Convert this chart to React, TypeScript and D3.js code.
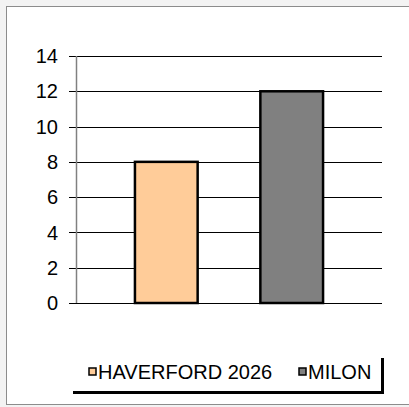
import React, { useEffect, useRef } from "react";
import * as d3 from "d3";

const categories = [""];
const seriesNames = ["HAVERFORD 2026", "MILON"];
const seriesValues = [8, 12];
const seriesColors = ["#FFCC99", "#808080"];
const yTicks = [0, 2, 4, 6, 8, 10, 12, 14];

const App: React.FC = () => {
  const svgRef = useRef<SVGSVGElement | null>(null);

  useEffect(() => {
    if (!svgRef.current) return;
    const svg = d3.select(svgRef.current);
    svg.selectAll("*").remove();

    const width = 409;
    const height = 407;
    const font = "Arial, 'Liberation Sans', sans-serif";

    svg.attr("width", width).attr("height", height);

    // page / chart background
    svg.append("rect").attr("width", width).attr("height", height).attr("fill", "#f3f3f3");
    svg
      .append("rect")
      .attr("x", 6.5)
      .attr("y", 6.5)
      .attr("width", width)
      .attr("height", 398)
      .attr("fill", "#fff")
      .attr("stroke", "#8c8c8c")
      .attr("stroke-width", 1);

    const left = 76;
    const right = 382;
    const top = 56;
    const bottom = 303;

    const y = d3.scaleLinear().domain([0, 14]).range([bottom, top]);
    const x0 = d3.scaleBand<string>().domain(categories).range([left, right]).padding(0);
    const x1 = d3
      .scaleBand<string>()
      .domain(seriesNames)
      .range([0, x0.bandwidth()])
      .paddingInner(0.5)
      .paddingOuter(0.47);

    // gridlines (extend left as tick marks)
    svg
      .append("g")
      .selectAll("line")
      .data(yTicks)
      .enter()
      .append("line")
      .attr("x1", left - 7)
      .attr("x2", right)
      .attr("y1", (d) => Math.round(y(d)) + 0.5)
      .attr("y2", (d) => Math.round(y(d)) + 0.5)
      .attr("stroke", "#000")
      .attr("stroke-width", 1);

    // vertical axis
    svg
      .append("line")
      .attr("x1", left + 0.5)
      .attr("x2", left + 0.5)
      .attr("y1", y(14))
      .attr("y2", y(0))
      .attr("stroke", "#808080")
      .attr("stroke-width", 1.5);

    // tick labels
    svg
      .append("g")
      .selectAll("text")
      .data(yTicks)
      .enter()
      .append("text")
      .attr("x", 58)
      .attr("y", (d) => y(d))
      .attr("dy", "0.36em")
      .attr("text-anchor", "end")
      .attr("font-family", font)
      .attr("font-size", 20)
      .attr("fill", "#000")
      .text((d) => d);

    // bars
    const bars = seriesNames.map((name, i) => ({ name, value: seriesValues[i], color: seriesColors[i] }));
    svg
      .append("g")
      .selectAll("rect")
      .data(bars)
      .enter()
      .append("rect")
      .attr("x", (d) => (x0(categories[0]) || 0) + (x1(d.name) || 0))
      .attr("y", (d) => y(d.value))
      .attr("width", x1.bandwidth())
      .attr("height", (d) => y(0) - y(d.value))
      .attr("fill", (d) => d.color)
      .attr("stroke", "#000")
      .attr("stroke-width", 2.5);

    // legend with shadow
    const lg = svg.append("g");
    lg.append("rect").attr("x", 73).attr("y", 358).attr("width", 311).attr("height", 36).attr("fill", "#000");
    lg.append("rect").attr("x", 70).attr("y", 355).attr("width", 311).attr("height", 36).attr("fill", "#fff");

    const entryX = [89, 299];
    seriesNames.forEach((name, i) => {
      lg.append("rect")
        .attr("x", entryX[i])
        .attr("y", 368)
        .attr("width", 7)
        .attr("height", 7)
        .attr("fill", seriesColors[i])
        .attr("stroke", "#000")
        .attr("stroke-width", 1.5);
      lg.append("text")
        .attr("x", entryX[i] + 9)
        .attr("y", 372)
        .attr("dy", "0.36em")
        .attr("font-family", font)
        .attr("font-size", 20)
        .attr("fill", "#000")
        .text(name);
    });
  }, []);

  return (
    <div style={{ position: "fixed", left: 0, top: 0 }}>
      <svg ref={svgRef}></svg>
    </div>
  );
};

export default App;
